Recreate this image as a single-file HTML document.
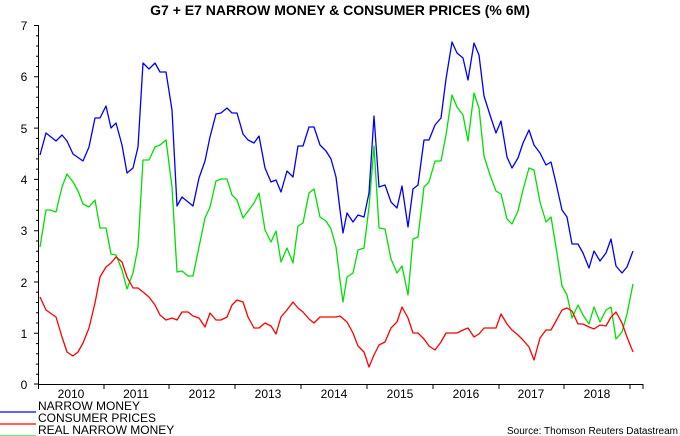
<!DOCTYPE html>
<html><head><meta charset="utf-8"><style>body{margin:0;background:#fff}svg{display:block}text{font-family:"Liberation Sans",Arial,sans-serif}</style></head><body>
<svg width="680" height="436" viewBox="0 0 680 436">
<text x="340" y="15" text-anchor="middle" font-size="14" font-weight="bold">G7 + E7 NARROW MONEY &amp; CONSUMER PRICES (% 6M)</text>
<g stroke="#000" stroke-width="1" fill="none">
<path d="M38.5 25V384.5H643"/>
<path d="M38.5 384v5M104 384v5M169 384v5M235 384v5M301 384v5M367 384v5M433 384v5M499 384v5M564 384v5M630 384v5M643 384v5"/>
<path d="M34 25.5h4M34 76.8h4M34 128.1h4M34 179.4h4M34 230.7h4M34 282h4M34 333.3h4M34 384h4" />
<path d="M36 35.8h2M36 46h2M36 56.3h2M36 66.5h2M36 87h2M36 97.3h2M36 107.6h2M36 117.8h2M36 138.4h2M36 148.6h2M36 158.9h2M36 169.1h2M36 189.7h2M36 199.9h2M36 210.2h2M36 220.4h2M36 241h2M36 251.2h2M36 261.5h2M36 271.7h2M36 292.3h2M36 302.5h2M36 312.8h2M36 323h2M36 343.6h2M36 353.8h2M36 364.1h2M36 374.3h2"/>
</g>
<g font-size="12" text-anchor="middle">
<text x="24" y="30">7</text><text x="24" y="81">6</text><text x="24" y="133">5</text><text x="24" y="184">4</text><text x="24" y="235">3</text><text x="24" y="287">2</text><text x="24" y="338">1</text><text x="24" y="389">0</text>
<text x="71" y="398">2010</text><text x="136" y="398">2011</text><text x="202" y="398">2012</text><text x="268" y="398">2013</text><text x="334" y="398">2014</text><text x="400" y="398">2015</text><text x="466" y="398">2016</text><text x="531" y="398">2017</text><text x="597" y="398">2018</text>
</g>
<g fill="none" stroke-width="1.3" stroke-linejoin="round">
<polyline stroke="#00e000" points="40,247 46,210 50,210 56,212 62,187 67,174 73,182 78,191 83,204 89,207 95,200 100,228 106,228 111,254 116,255 122,270 127,289 133,273 138,247 143,160 149,160 155,147 160,145 166,140 172,187 177,272 182,271 188,276 193,276 199,247 205,218 210,207 216,181 221,179 227,179 232,195 237,200 243,218 254,203 259,193 265,230 271,242 276,231 281,262 287,248 293,263 298,226 303,223 309,193 314,189 320,217 326,221 331,229 336,247 340,280 343,302 347,277 353,273 358,250 364,248 369,207 374,146 379,228 385,229 391,259 397,273 402,266 408,295 413,239 418,237 424,187 429,182 435,161 441,161 446,135 452,95 457,107 463,115 468,141 474,93 479,108 484,156 490,175 496,191 501,194 507,219 512,224 518,211 523,190 529,168 534,170 540,202 546,222 551,217 556,247 562,286 567,295 572,318 578,305 583,315 589,324 594,307 600,322 606,310 611,307 616,339 622,332 627,314 633,284"/>
<polyline stroke="#ff0000" points="40,297 46,310 56,317 62,337 67,352 73,356 78,352 83,343 89,328 95,303 100,277 106,267 111,263 116,257 122,262 127,277 133,288 138,288 143,292 149,297 155,305 160,315 166,320 172,318 177,320 182,312 188,312 193,316 199,318 205,327 210,313 216,320 221,320 227,317 232,305 237,300 243,302 248,317 254,328 259,328 265,323 271,326 276,334 281,317 287,310 293,302 298,308 303,312 309,319 314,323 320,317 326,317 336,317 340,316 347,322 353,333 358,346 364,352 369,367 374,355 379,345 385,342 391,328 397,322 402,307 408,318 413,333 418,333 424,339 429,346 435,350 441,342 446,333 457,333 463,330 468,328 474,337 479,334 484,328 496,328 501,314 507,324 512,330 518,335 523,340 529,347 534,360 540,338 546,330 551,330 556,321 562,310 567,308 572,311 578,324 583,324 589,327 594,329 600,325 606,326 611,317 616,312 622,323 627,337 633,352"/>
<polyline stroke="#0000ff" points="40,155 46,133 56,141 62,135 67,141 73,154 83,161 89,147 95,118 100,118 106,106 111,128 116,123 122,145 127,173 133,168 138,147 143,63 149,69 155,63 160,72 166,72 172,110 177,206 182,197 193,206 199,178 205,161 210,137 216,114 221,113 227,108 232,113 237,113 243,134 248,140 254,143 259,136 265,168 271,182 276,180 281,192 287,171 293,177 298,146 303,146 309,127 314,127 320,145 326,151 331,159 336,177 340,210 343,233 347,213 353,222 358,215 364,217 369,193 374,116 379,187 385,185 391,202 397,208 402,186 408,227 413,189 418,185 424,140 429,140 435,125 441,118 446,79 452,42 457,53 463,58 468,80 474,43 479,55 484,96 490,115 496,133 501,121 507,157 512,168 518,158 523,143 529,130 534,145 540,153 546,165 551,162 556,183 562,210 567,217 572,244 578,244 583,253 589,268 594,251 600,261 606,253 611,239 616,266 622,273 627,267 633,251"/>
</g>
<g stroke-width="1.3"><path d="M0 412H36" stroke="#0000ff"/><path d="M0 424H36" stroke="#ff0000"/><path d="M0 436H36" stroke="#00e000"/></g>
<g font-size="12"><text x="38" y="410">NARROW MONEY</text><text x="38" y="422">CONSUMER PRICES</text><text x="38" y="434">REAL NARROW MONEY</text></g>
<text x="678" y="434" font-size="10" text-anchor="end">Source: Thomson Reuters Datastream</text>
</svg>
</body></html>
